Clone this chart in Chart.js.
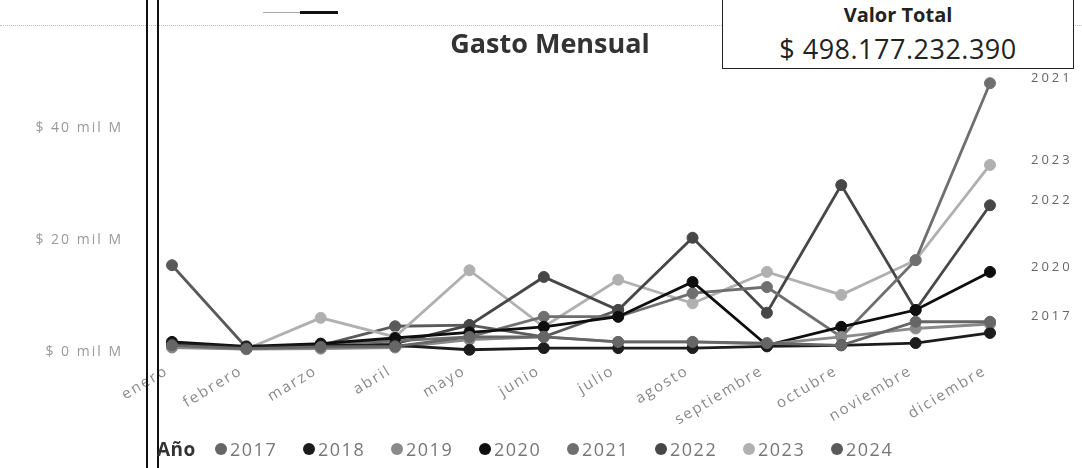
<!DOCTYPE html>
<html>
<head>
<meta charset="utf-8">
<script src="https://cdn.jsdelivr.net/npm/chart.js@4"></script>
<style>
  body { margin: 0; background: #fff; font-family: "Open Sans", sans-serif; }
  #wrap { position: relative; width: 1082px; height: 468px; overflow: hidden; }
  #grafico { position: absolute; left: 0; top: 0; }
  .vline { position: absolute; top: 0; width: 2px; height: 468px; background: #111; }
  #punteada { position: absolute; left: 0; top: 25px; width: 1082px; border-top: 1px dotted #bbb; }
  #caja { position: absolute; left: 722px; top: -2px; width: 350px; height: 70px;
          border: 1.5px solid #222; border-top: none; background: #fff; }
  #caja .t1 { position: absolute; left: 0; right: 0; top: 4px; text-align: center;
              font-weight: bold; font-size: 20px; line-height: 26px; color: #222; }
  #caja .t2 { position: absolute; left: 0; right: 0; top: 33px; text-align: center;
              font-size: 27px; line-height: 36px; color: #222; letter-spacing: 0.5px; }
  #titulo { position: absolute; left: 400px; width: 300px; top: 25px; text-align: center;
            font-weight: bold; font-size: 27px; line-height: 36px; color: #333; }
  #seg1 { position: absolute; left: 263px; top: 12px; width: 37px; height: 1px; background: #aaa; }
  #seg2 { position: absolute; left: 300px; top: 11px; width: 38px; height: 3px; background: #111; }
  #leyenda { position: absolute; left: 157px; top: 436px; height: 26px; display: flex; align-items: center;
             font-size: 18px; color: #777; letter-spacing: 1.5px; }
  #leyenda b { color: #333; font-size: 19px; width: 58px; letter-spacing: 0.5px; }
  #leyenda span.it { display: flex; align-items: center; width: 88px; }
  #leyenda i { display: inline-block; width: 12px; height: 12px; border-radius: 50%; margin-right: 3px; }
</style>
</head>
<body>
<div id="wrap">
  <canvas id="grafico" width="1082" height="468"></canvas>
  <div id="punteada"></div>
  <div id="seg1"></div><div id="seg2"></div>
  <div class="vline" style="left:146px"></div>
  <div class="vline" style="left:157px"></div>
  <div id="titulo">Gasto Mensual</div>
  <div id="caja"><div class="t1">Valor Total</div><div class="t2">$ 498.177.232.390</div></div>
  <div id="leyenda"><b>Año</b></div>
</div>
<script>
// meses y años
const meses = ['enero', 'febrero', 'marzo', 'abril', 'mayo', 'junio', 'julio',
               'agosto', 'septiembre', 'octubre', 'noviembre', 'diciembre'];
const anios = ['2017', '2018', '2019', '2020', '2021', '2022', '2023', '2024'];

// gasto mensual en miles de millones (mil M)
const gasto2017 = [1.2, 0.6, 0.9, 1.0, 2.7, 2.7, 1.8, 1.8, 1.6, 1.2, 5.4, 5.4];
const gasto2018 = [1.5, 0.9, 1.2, 1.2, 0.4, 0.7, 0.7, 0.7, 1.0, 1.2, 1.6, 3.4];
const gasto2019 = [0.8, 0.5, 0.6, 0.8, 2.2, 2.7, 1.8, 1.8, 1.4, 2.7, 4.2, 5.0];
const gasto2020 = [1.8, 1.0, 1.5, 2.5, 3.5, 4.5, 6.3, 12.5, 1.2, 4.5, 7.5, 14.3];
const gasto2021 = [1.4, 0.7, 1.3, 2.0, 2.7, 6.3, 6.3, 10.5, 11.6, 2.7, 16.4, 48.0];
const gasto2022 = [1.0, 0.6, 1.0, 1.5, 4.8, 13.4, 7.5, 20.4, 7.0, 29.8, 7.5, 26.2];
const gasto2023 = [1.0, 0.5, 6.1, 2.7, 14.6, 4.5, 12.9, 8.7, 14.3, 10.2, 16.4, 33.4];
const gasto2024 = [15.5, 0.8, 1.2, 4.6, 4.8, 2.7, 7.5, null, null, null, null, null];

const ticksY = [0, 20, 40];
// años que llevan etiqueta al final de la linea
const etiquetasFinales = ['2017', '2020', '2021', '2022', '2023'];

const colores = {
    '2017': '#666666', '2018': '#1c1c1c', '2019': '#8a8a8a', '2020': '#0e0e0e',
    '2021': '#6f6f6f', '2022': '#474747', '2023': '#b0b0b0', '2024': '#5a5a5a'
};

const series = [gasto2017, gasto2018, gasto2019, gasto2020, gasto2021, gasto2022, gasto2023, gasto2024];

var datasets = [];
for (var i = 0; i < anios.length; i++) {
    datasets.push({
        label: anios[i],
        data: series[i],
        borderColor: colores[anios[i]],
        backgroundColor: colores[anios[i]],
        pointBorderColor: colores[anios[i]],
        borderWidth: 2.8,
        pointRadius: 5.5,
        pointBorderWidth: 1,
        tension: 0,
        spanGaps: false,
        clip: false
    });
}

// leyenda en html
const leyenda = document.getElementById('leyenda');
anios.forEach(a => {
    const s = document.createElement('span');
    s.className = 'it';
    s.innerHTML = '<i style="background:' + colores[a] + '"></i>' + a;
    leyenda.appendChild(s);
});

// espaciado de letras para los textos de los ejes (como el original)
const espaciado = {
    id: 'espaciado',
    beforeDraw(chart) { chart.ctx.letterSpacing = '2px'; },
    beforeDatasetsDraw(chart) { chart.ctx.letterSpacing = '0px'; }
};

// etiquetas de año a la derecha
const etiquetasDerecha = {
    id: 'etiquetasDerecha',
    afterDatasetsDraw(chart) {
        const ctx = chart.ctx;
        const y = chart.scales.y;
        ctx.save();
        ctx.font = '13px "Open Sans"';
        ctx.fillStyle = '#666';
        ctx.textBaseline = 'middle';
        ctx.letterSpacing = '3px';
        chart.data.datasets.forEach(ds => {
            if (!etiquetasFinales.includes(ds.label)) return;
            const ultimo = ds.data[ds.data.length - 1];
            ctx.fillText(ds.label, 1031, y.getPixelForValue(ultimo) - 5);
        });
        ctx.restore();
    }
};

new Chart(document.getElementById('grafico'), {
    type: 'line',
    data: { labels: meses, datasets: datasets },
    plugins: [espaciado, etiquetasDerecha],
    options: {
        responsive: false,
        animation: false,
        devicePixelRatio: 1,
        layout: { padding: { left: 0, right: 92, top: 72, bottom: 0 } },
        plugins: {
            legend: { display: false },
            tooltip: { enabled: false }
        },
        scales: {
            x: {
                grid: { display: false },
                border: { display: false },
                afterFit: s => { s.height = 116; },
                ticks: {
                    autoSkip: false,
                    minRotation: 31,
                    maxRotation: 31,
                    padding: 2,
                    labelOffset: -5,
                    color: '#888',
                    font: { family: 'Open Sans', size: 15 }
                }
            },
            y: {
                min: 0,
                max: 50,
                grid: { display: false },
                border: { display: false },
                afterFit: s => { s.width = 172; },
                afterBuildTicks: s => { s.ticks = ticksY.map(v => ({ value: v })); },
                ticks: {
                    padding: 41,
                    color: '#999',
                    font: { family: 'Open Sans', size: 14 },
                    callback: v => '$ ' + v + ' mil M'
                }
            }
        }
    }
});
</script>
</body>
</html>
